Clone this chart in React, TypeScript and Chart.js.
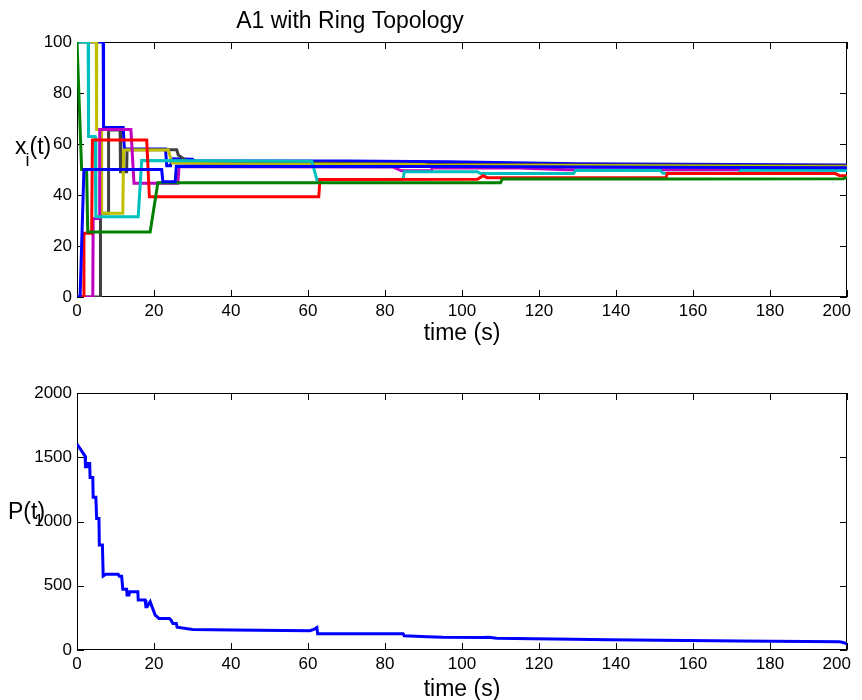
import React, { useEffect, useRef } from "react";
import { Chart, registerables } from "chart.js";

Chart.register(...registerables);

const FONT = '"Liberation Sans", Arial, Helvetica, sans-serif';

// ---- tick values ----
const timeTicks = [0, 20, 40, 60, 80, 100, 120, 140, 160, 180, 200];
const stateTicks = [0, 20, 40, 60, 80, 100];
const powerTicks = [0, 500, 1000, 1500, 2000];

// ---- text ----
const titleText = "A1 with Ring Topology";
const xLabelText = "time (s)";

// ---- agent states x_i(t): [time, value] ----
const agent1: [number, number][] = [
  [0, 0], [0.8, 0], [1.8, 50], [22, 50], [22.3, 45.2], [25.5, 45.2], [25.8, 51.3],
  [60, 51.2], [100, 51.2], [150, 50.9], [200, 50.7],
];
const agent2: [number, number][] = [
  [0, 100], [1.2, 50], [2.5, 50], [2.8, 25.5], [19, 25.5], [21, 44.8], [110, 44.8],
  [110.5, 46.3], [153, 46.3], [199, 46.4], [200, 47],
];
const agent3: [number, number][] = [
  [0, 0], [1.6, 0], [1.8, 25], [3.8, 25], [4, 61.6], [18.1, 61.6], [18.8, 39.3],
  [62.8, 39.3], [63.1, 46.1], [104, 46.2], [105.5, 47.6], [106.5, 46.8], [153, 46.8],
  [153.3, 48.4], [197, 48.4], [198, 47.6], [200, 47.5],
];
const agent4: [number, number][] = [
  [0, 100], [2.9, 100], [3, 62.9], [4.7, 62.9], [4.9, 31.5], [15.9, 31.5], [16.8, 53.5],
  [61, 53.2], [62.3, 46.1], [84.7, 46.1], [85, 49.1], [104, 49.1], [104.8, 48.4],
  [129, 48.4], [129.5, 49.6], [151.5, 49.6], [152.2, 48.5], [172, 48.5], [172.5, 49.8],
  [200, 49.6],
];
const agent5: [number, number][] = [
  [0, 0], [4.1, 0], [4.2, 30.8], [5.8, 30.8], [5.9, 65.7], [14, 65.7], [14.8, 44.6],
  [26.2, 44.6], [26.5, 51.1], [37, 51.1], [82, 51], [84.3, 49.5], [92, 49.5],
  [92.3, 50.6], [115, 50.6], [127, 49.9], [200, 49.9],
];
const agent6: [number, number][] = [
  [0, 100], [5, 100], [5.1, 65.7], [6.3, 65.7], [6.4, 32.8], [11.9, 32.8], [12.1, 57.6],
  [23.7, 57.6], [24.7, 52.5], [41.5, 52.2], [90, 52], [91, 51.8], [118, 51.7], [200, 51.1],
];
const agent7: [number, number][] = [
  [0, 0], [6, 0], [6.1, 32.8], [8.1, 32.8], [8.2, 65.5], [11.2, 65.5], [11.3, 49.1],
  [12.9, 49.1], [13, 57.7], [25.9, 57.7], [26.3, 55.7], [28.8, 53], [95, 52], [200, 51.5],
];
const agent8: [number, number][] = [
  [0, 100], [6.8, 100], [6.9, 66.5], [12, 66.5], [12.3, 58], [23, 58], [23.3, 51.5],
  [24.3, 51.5], [24.6, 54.2], [30, 54], [30.5, 53.4], [70, 53.3], [96, 53], [130, 52.3],
  [170, 52], [200, 51.8],
];

// ---- P(t) ----
const powerSeries: [number, number][] = [
  [0, 1603], [2.1, 1509], [2.2, 1426], [2.7, 1426], [2.8, 1452], [3.3, 1452], [3.4, 1343],
  [4.1, 1343], [4.2, 1188], [4.9, 1188], [5.1, 1024], [5.7, 1024], [5.8, 817], [6.6, 817],
  [6.8, 576], [7.5, 590], [10.7, 590], [11, 573], [11.6, 573], [11.9, 472], [12.9, 472],
  [13, 428], [13.5, 428], [13.7, 454], [15.8, 454], [15.9, 389], [17.7, 389], [17.9, 337],
  [18.2, 337], [19, 376], [20.3, 272], [21.3, 246], [24, 246], [24.5, 230], [24.9, 207],
  [25.8, 207], [26, 177], [30, 160], [40.5, 156], [60.5, 150], [61.5, 160], [62.3, 175],
  [62.5, 127], [84.7, 127], [85, 111], [91, 104], [95, 99], [105.5, 97], [107, 100],
  [109, 92], [118.5, 88], [129, 84], [138, 80], [151.4, 76], [172, 70], [198, 65],
  [199, 58], [200, 47],
];

const agentSeries = [agent1, agent2, agent3, agent4, agent5, agent6, agent7, agent8];
const agentColors = ["#0000ff", "#008000", "#ff0000", "#00bfbf", "#bf00bf", "#bfbf00", "#404040", "#0000ff"];

const toPts = (arr: [number, number][]) => arr.map(([x, y]) => ({ x, y }));

const TICK_SIZE = 17;
const LABEL_SIZE = 23;

function framePlugin(): any {
  return {
    id: "matlabFrame",
    beforeDatasetsDraw(chart: any) {
      const { ctx, chartArea: a, scales } = chart;
      const L = 7;
      ctx.save();
      ctx.strokeStyle = "#000";
      ctx.lineWidth = 1;
      ctx.beginPath();
      scales.x.ticks.forEach((t: any) => {
        const p = Math.round(scales.x.getPixelForValue(t.value)) + 0.5;
        ctx.moveTo(p, a.bottom);
        ctx.lineTo(p, a.bottom - L);
        ctx.moveTo(p, a.top);
        ctx.lineTo(p, a.top + L);
      });
      scales.y.ticks.forEach((t: any) => {
        const p = Math.round(scales.y.getPixelForValue(t.value)) + 0.5;
        ctx.moveTo(a.left, p);
        ctx.lineTo(a.left + L, p);
        ctx.moveTo(a.right, p);
        ctx.lineTo(a.right - L, p);
      });
      ctx.stroke();
      ctx.strokeRect(Math.round(a.left) + 0.5, Math.round(a.top) + 0.5, Math.round(a.width) - 1, Math.round(a.height) - 1);
      ctx.restore();
    },
  };
}

function labelsPlugin(draw: (ctx: CanvasRenderingContext2D, a: any) => void): any {
  return {
    id: "matlabLabels",
    afterDraw(chart: any) {
      const ctx = chart.ctx as CanvasRenderingContext2D;
      ctx.save();
      ctx.fillStyle = "#000";
      draw(ctx, chart.chartArea);
      ctx.restore();
    },
  };
}

function scalesFor(yMin: number, yMax: number, yTicks: number[], xHeight: number) {
  return {
    x: {
      type: "linear" as const,
      min: 0,
      max: 200,
      afterBuildTicks: (s: any) => { s.ticks = timeTicks.map((v) => ({ value: v })); },
      afterFit: (s: any) => {
        s.height = xHeight;
        s.paddingLeft = 0;
        s.paddingRight = 0;
      },
      grid: { display: false, drawTicks: false, tickLength: 0 },
      border: { display: false },
      ticks: {
        color: "#000",
        font: { family: FONT, size: TICK_SIZE },
        padding: 4,
        maxRotation: 0,
        autoSkip: false,
        callback: (v: any) => (v === 200 ? "200\u2003\u2009" : String(v)),
      },
    },
    y: {
      type: "linear" as const,
      min: yMin,
      max: yMax,
      afterBuildTicks: (s: any) => { s.ticks = yTicks.map((v) => ({ value: v })); },
      afterFit: (s: any) => {
        s.width = 77;
        s.paddingTop = 0;
        s.paddingBottom = 0;
      },
      grid: { display: false, drawTicks: false, tickLength: 0 },
      border: { display: false },
      ticks: {
        color: "#000",
        font: { family: FONT, size: TICK_SIZE },
        padding: 5,
        autoSkip: false,
        callback: (v: any) => String(v),
      },
    },
  };
}

export default function App() {
  const topRef = useRef<HTMLCanvasElement>(null);
  const botRef = useRef<HTMLCanvasElement>(null);

  useEffect(() => {
    const top = new Chart(topRef.current!, {
      type: "line",
      data: {
        datasets: agentSeries.map((s, i) => ({
          data: toPts(s),
          borderColor: agentColors[i],
          borderWidth: 3,
          pointRadius: 0,
          tension: 0,
          fill: false,
        })),
      },
      options: {
        animation: false,
        responsive: false,
        parsing: false as any,
        layout: { padding: { left: 0, top: 42, right: 15, bottom: 0 } },
        plugins: { legend: { display: false }, title: { display: false }, tooltip: { enabled: false } },
        events: [],
        scales: scalesFor(0, 100, stateTicks, 53),
      },
      plugins: [
        framePlugin(),
        labelsPlugin((ctx, a) => {
          ctx.textBaseline = "alphabetic";
          ctx.textAlign = "center";
          ctx.font = `${LABEL_SIZE}px ${FONT}`;
          ctx.fillText(titleText, 350, 28);
          ctx.fillText(xLabelText, (a.left + a.right) / 2, 340);
          ctx.textAlign = "left";
          ctx.font = `${LABEL_SIZE}px ${FONT}`;
          ctx.fillText("x", 15, 154);
          const wx = ctx.measureText("x").width;
          ctx.font = `18px ${FONT}`;
          ctx.fillText("i", 14 + wx, 166);
          const wi = ctx.measureText("i").width;
          ctx.font = `${LABEL_SIZE}px ${FONT}`;
          ctx.fillText("(t)", 14 + wx + wi, 154);
        }),
      ],
    });

    const bot = new Chart(botRef.current!, {
      type: "line",
      data: {
        datasets: [
          {
            data: toPts(powerSeries),
            borderColor: "#0000ff",
            borderWidth: 3,
            pointRadius: 0,
            tension: 0,
            fill: false,
          },
        ],
      },
      options: {
        animation: false,
        responsive: false,
        parsing: false as any,
        layout: { padding: { left: 0, top: 43, right: 15, bottom: 0 } },
        plugins: { legend: { display: false }, title: { display: false }, tooltip: { enabled: false } },
        events: [],
        scales: scalesFor(0, 2000, powerTicks, 50),
      },
      plugins: [
        framePlugin(),
        labelsPlugin((ctx, a) => {
          ctx.textBaseline = "alphabetic";
          ctx.textAlign = "center";
          ctx.font = `${LABEL_SIZE}px ${FONT}`;
          ctx.fillText(xLabelText, (a.left + a.right) / 2, 346);
          ctx.textAlign = "left";
          ctx.fillText("P(t)", 8, 169);
        }),
      ],
    });

    return () => {
      top.destroy();
      bot.destroy();
    };
  }, []);

  return (
    <div style={{ position: "absolute", left: 0, top: 0, width: 862, height: 700, background: "#fff" }}>
      <canvas ref={topRef} width={862} height={350} style={{ position: "absolute", left: 0, top: 0 }} />
      <canvas ref={botRef} width={862} height={350} style={{ position: "absolute", left: 0, top: 350 }} />
    </div>
  );
}
